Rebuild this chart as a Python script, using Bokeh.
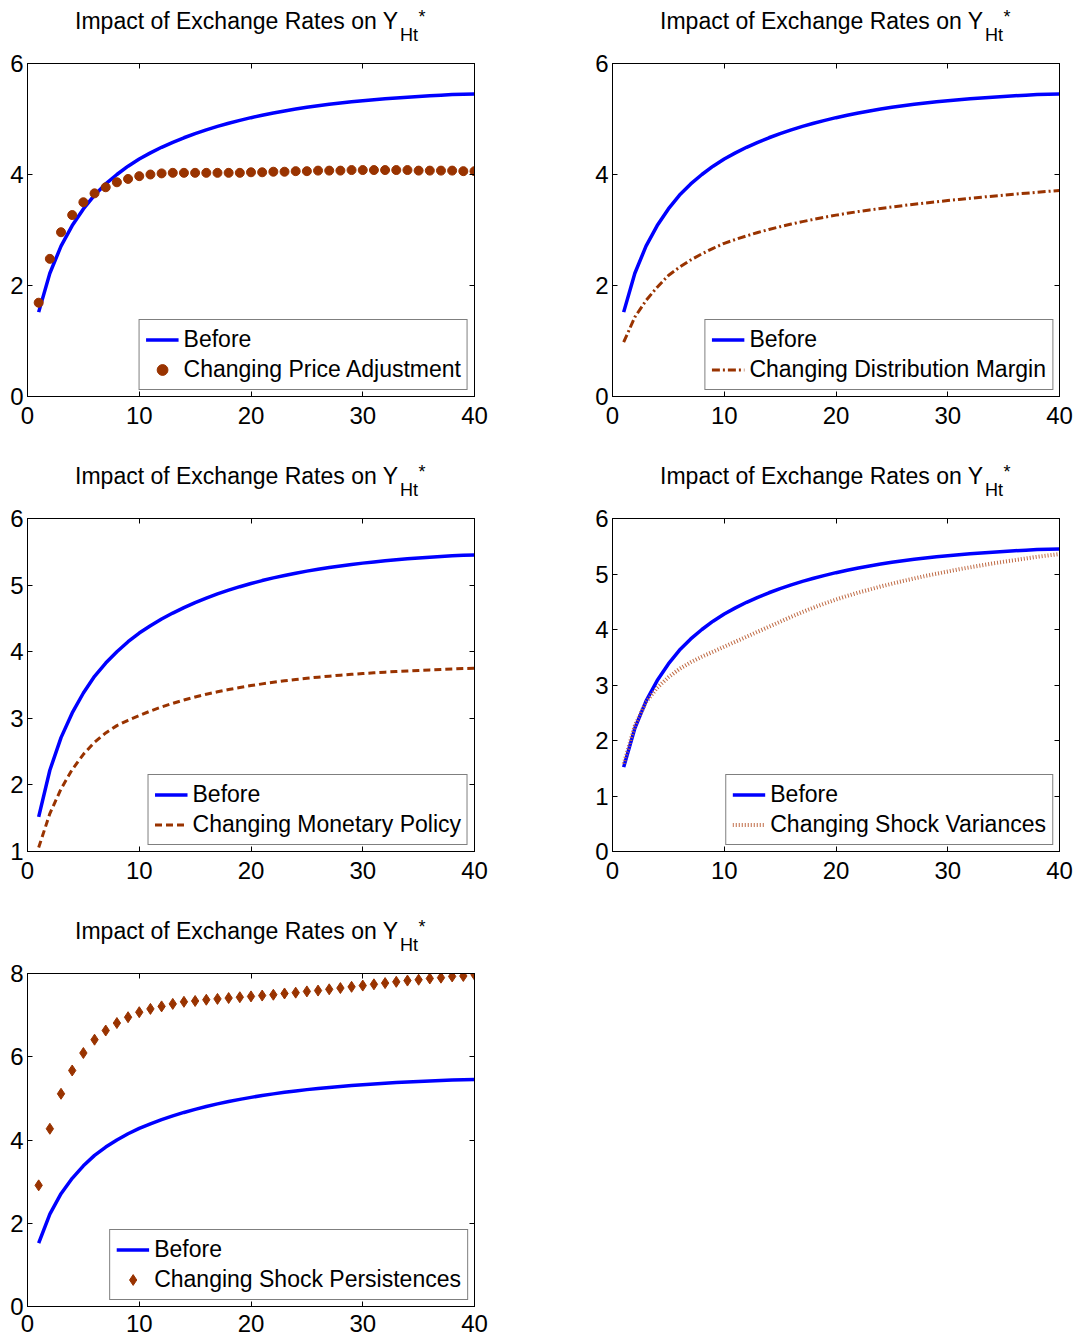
from bokeh.plotting import figure
from bokeh.models import Range1d, FixedTicker, LinearAxis
from bokeh.layouts import column, row
from bokeh.core.properties import value
from bokeh.embed import file_html
from bokeh.resources import INLINE

# ---------------- data ----------------
periods = list(range(1, 41))

before = [1.520, 2.220, 2.710, 3.080, 3.380, 3.630, 3.830, 4.000, 4.150, 4.280,
          4.390, 4.490, 4.580, 4.662, 4.737, 4.805, 4.867, 4.924, 4.976, 5.024,
          5.068, 5.108, 5.145, 5.179, 5.210, 5.238, 5.264, 5.288, 5.310, 5.330,
          5.348, 5.365, 5.380, 5.394, 5.407, 5.419, 5.430, 5.440, 5.447, 5.452]

price_adjustment = [1.69, 2.48, 2.96, 3.27, 3.50, 3.66, 3.77, 3.86, 3.92, 3.97,
                    4.00, 4.02, 4.03, 4.03, 4.03, 4.03, 4.03, 4.03, 4.03, 4.04,
                    4.04, 4.05, 4.05, 4.06, 4.06, 4.07, 4.07, 4.07, 4.08, 4.08,
                    4.08, 4.08, 4.08, 4.08, 4.07, 4.07, 4.07, 4.07, 4.06, 4.06]

distribution_margin = [0.98, 1.43, 1.73, 1.97, 2.18, 2.33, 2.46, 2.57, 2.67, 2.76,
                       2.830, 2.895, 2.955, 3.010, 3.060, 3.107, 3.151, 3.192, 3.231, 3.268,
                       3.301, 3.332, 3.361, 3.389, 3.415, 3.440, 3.464, 3.487, 3.509, 3.530,
                       3.551, 3.571, 3.591, 3.610, 3.628, 3.646, 3.663, 3.680, 3.696, 3.712]

monetary_policy = [1.06, 1.57, 1.94, 2.23, 2.46, 2.64, 2.78, 2.89, 2.97, 3.04,
                   3.110, 3.170, 3.225, 3.275, 3.320, 3.361, 3.398, 3.432, 3.463, 3.491,
                   3.517, 3.541, 3.563, 3.583, 3.601, 3.618, 3.633, 3.647, 3.660, 3.672,
                   3.683, 3.693, 3.702, 3.711, 3.719, 3.727, 3.734, 3.741, 3.747, 3.753]

shock_variances = [1.58, 2.27, 2.69, 2.95, 3.14, 3.29, 3.41, 3.51, 3.60, 3.69,
                   3.780, 3.870, 3.960, 4.050, 4.140, 4.230, 4.315, 4.395, 4.470, 4.540,
                   4.605, 4.665, 4.720, 4.775, 4.825, 4.875, 4.920, 4.965, 5.005, 5.045,
                   5.085, 5.120, 5.155, 5.190, 5.220, 5.250, 5.280, 5.310, 5.335, 5.360]

shock_persistences = [2.91, 4.27, 5.11, 5.67, 6.09, 6.41, 6.63, 6.81, 6.95, 7.07,
                      7.15, 7.21, 7.27, 7.32, 7.34, 7.37, 7.39, 7.41, 7.43, 7.45,
                      7.47, 7.49, 7.52, 7.54, 7.57, 7.59, 7.62, 7.65, 7.68, 7.71,
                      7.74, 7.77, 7.80, 7.83, 7.85, 7.88, 7.90, 7.93, 7.94, 7.97]

x_ticks = [0, 10, 20, 30, 40]
title_main = "Impact of Exchange Rates on Y"
title_sub = "Ht"
title_sup = "*"

panels = [
    dict(label="Changing Price Adjustment", series=price_adjustment, kind="dots",
         yr=(0, 6), yt=[0, 2, 4, 6]),
    dict(label="Changing Distribution Margin", series=distribution_margin, kind="dashdot",
         yr=(0, 6), yt=[0, 2, 4, 6]),
    dict(label="Changing Monetary Policy", series=monetary_policy, kind="dashed",
         yr=(1, 6), yt=[1, 2, 3, 4, 5, 6]),
    dict(label="Changing Shock Variances", series=shock_variances, kind="dotted",
         yr=(0, 6), yt=[0, 1, 2, 3, 4, 5, 6]),
    dict(label="Changing Shock Persistences", series=shock_persistences, kind="diamonds",
         yr=(0, 8), yt=[0, 2, 4, 6, 8]),
]

FONT = "Liberation Sans"
BLUE = "#0000FF"
BROWN = "#993300"
SALMON = "#BF6A44"
FRAME_W = 447
FRAME_H = 333
TITLE_H = 46
PLOT_TOP = 17


def borders(col):
    return (27, 74) if col == 0 else (64, 17)


def style_axis(ax, ticks, show_labels=True):
    ax.ticker = FixedTicker(ticks=ticks)
    ax.axis_line_color = "black"
    ax.axis_line_width = 1
    ax.major_tick_line_color = "black"
    ax.major_tick_line_width = 1
    ax.major_tick_in = 5
    ax.major_tick_out = 0
    ax.minor_tick_line_color = None
    if show_labels:
        ax.major_label_text_font = FONT
        ax.major_label_text_font_size = "24px"
        ax.major_label_text_color = "black"
    else:
        ax.major_label_text_font_size = "1px"
        ax.major_label_text_color = None
        ax.major_label_standoff = 0


def make_title(col):
    left, right = borders(col)
    width = left + FRAME_W + right
    t = figure(width=width, height=TITLE_H, title=None,
               x_range=Range1d(0, 40), y_range=Range1d(0, TITLE_H),
               output_backend="svg", toolbar_location=None,
               x_axis_location=None, y_axis_location=None,
               min_border_left=left, min_border_right=right,
               min_border_top=0, min_border_bottom=0)
    t.xgrid.visible = False
    t.ygrid.visible = False
    t.outline_line_color = None
    t.background_fill_color = "white"
    t.border_fill_color = "white"
    # x = 20 is the centre of the panel below; offsets are in pixels,
    # y values are the vertical centres of the texts (measured from the bottom)
    t.text(x=[20], y=[TITLE_H - 20], text=[title_main], x_offset=147.5,
           text_align="right", text_baseline="middle",
           text_font=value(FONT), text_font_size="23px", text_color="black")
    t.text(x=[20], y=[TITLE_H - 34.5], text=[title_sub], x_offset=149,
           text_align="left", text_baseline="middle",
           text_font=value(FONT), text_font_size="18px", text_color="black")
    t.text(x=[20], y=[TITLE_H - 16.5], text=[title_sup], x_offset=167.5,
           text_align="left", text_baseline="middle",
           text_font=value(FONT), text_font_size="18px", text_color="black")
    return t


def make_panel(cfg, col, bottom, standoff):
    left, right = borders(col)
    width = left + FRAME_W + right
    height = PLOT_TOP + FRAME_H + bottom
    ymin, ymax = cfg["yr"]
    p = figure(width=width, height=height, title=None,
               x_range=Range1d(0, 40), y_range=Range1d(ymin, ymax),
               output_backend="svg", toolbar_location=None,
               min_border_left=left, min_border_right=right,
               min_border_top=PLOT_TOP, min_border_bottom=bottom)
    p.xgrid.visible = False
    p.ygrid.visible = False
    p.outline_line_color = "black"
    p.outline_line_width = 1
    p.background_fill_color = "white"
    p.border_fill_color = "white"

    style_axis(p.xaxis[0], x_ticks)
    p.xaxis[0].major_label_standoff = standoff
    style_axis(p.yaxis[0], cfg["yt"])
    p.yaxis[0].major_label_standoff = 4

    top_ax = LinearAxis()
    style_axis(top_ax, x_ticks, show_labels=False)
    p.add_layout(top_ax, "above")
    right_ax = LinearAxis()
    style_axis(right_ax, cfg["yt"], show_labels=False)
    p.add_layout(right_ax, "right")

    p.line(periods, before, line_color=BLUE, line_width=3.5, legend_label="Before")
    kind = cfg["kind"]
    if kind == "dots":
        p.scatter(periods, cfg["series"], marker="circle", size=9,
                  fill_color=BROWN, line_color=BROWN, legend_label=cfg["label"])
    elif kind == "diamonds":
        p.scatter(periods, cfg["series"], marker="diamond", size=11,
                  fill_color=BROWN, line_color=BROWN, legend_label=cfg["label"])
    elif kind == "dashed":
        p.line(periods, cfg["series"], line_color=BROWN, line_width=3,
               line_dash="7 4", legend_label=cfg["label"])
    elif kind == "dashdot":
        p.line(periods, cfg["series"], line_color=BROWN, line_width=3,
               line_dash="8 3 2 3", legend_label=cfg["label"])
    elif kind == "dotted":
        p.line(periods, cfg["series"], line_color=SALMON, line_width=4,
               line_dash="1 2", legend_label=cfg["label"])

    lg = p.legend[0]
    lg.location = "bottom_right"
    lg.margin = 6
    lg.padding = 6
    lg.spacing = 3
    lg.glyph_width = 33
    lg.glyph_height = 27
    lg.label_height = 27
    lg.label_standoff = 5
    lg.label_text_font = FONT
    lg.label_text_font_size = "23px"
    lg.label_text_color = "black"
    lg.border_line_color = "black"
    lg.border_line_width = 1
    lg.background_fill_color = "white"
    lg.background_fill_alpha = 1.0
    return p


def block(i, col, bottom, standoff):
    return column(make_title(col), make_panel(panels[i], col, bottom, standoff))


layout = column(
    row(block(0, 0, 59, 10), block(1, 1, 59, 10)),
    row(block(2, 0, 59, 10), block(3, 1, 59, 10)),
    row(block(4, 0, 36, 8)),
)

with open("out.html", "w") as f:
    f.write(file_html(layout, INLINE))
